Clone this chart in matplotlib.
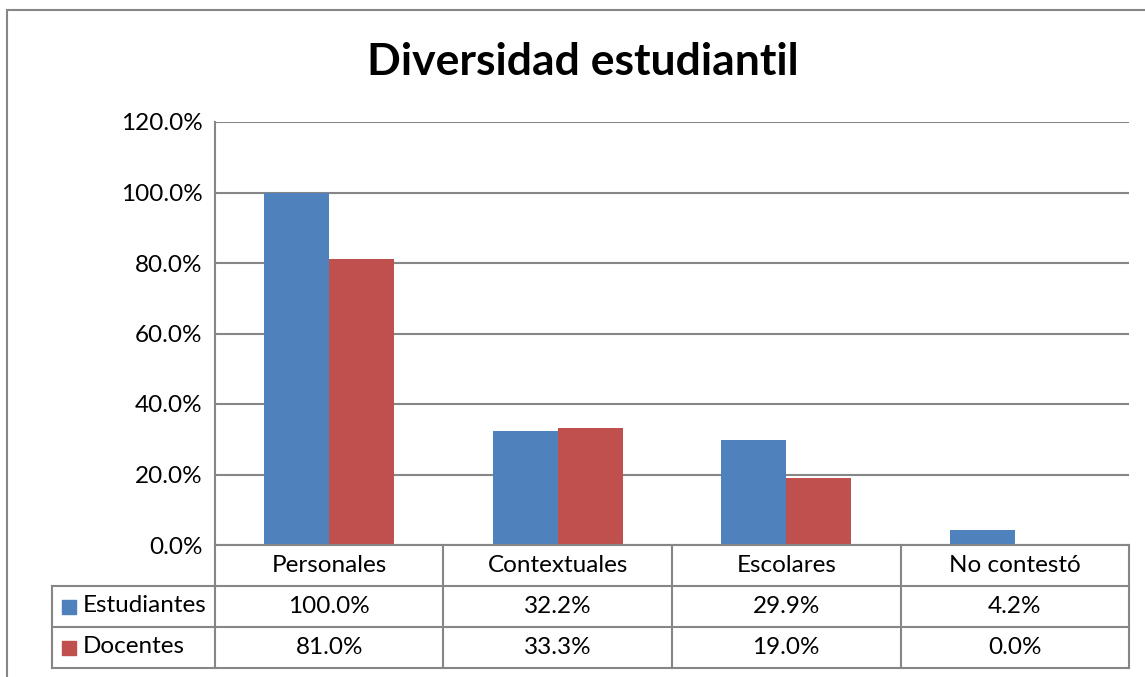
import matplotlib.pyplot as plt
import numpy as np
from matplotlib.patches import Rectangle

categories = ['Personales', 'Contextuales', 'Escolares', 'No contestó']
series_names = ['Estudiantes', 'Docentes']
estudiantes = [100.0, 32.2, 29.9, 4.2]
docentes = [81.0, 33.3, 19.0, 0.0]
yticks = [0, 20, 40, 60, 80, 100, 120]

blue = '#4F81BD'
red = '#C0504D'
grid_c = '#868686'
plt.rcParams['font.family'] = ['Lato', 'DejaVu Sans']
fs = 17.5

W, H = 1145, 677
fig = plt.figure(figsize=(W / 100, H / 100), dpi=100)

def fx(px):
    return px / W

def fy(py):
    return 1 - py / H

# outer chart border (right and bottom edges fall outside the image)
fig.patches.append(Rectangle((fx(7), fy(690)), fx(1160) - fx(7), fy(10) - fy(690),
                             transform=fig.transFigure, fill=False,
                             edgecolor=grid_c, lw=1.5))

left, right, top, bottom = 215, 1129, 122, 545
ax = fig.add_axes([fx(left), fy(bottom), fx(right) - fx(left), fy(top) - fy(bottom)])

x = np.arange(len(categories))
w = 0.284
ax.bar(x - w / 2, estudiantes, w, color=blue)
ax.bar(x + w / 2, docentes, w, color=red)
ax.set_xlim(-0.5, len(categories) - 0.5)
ax.set_ylim(0, 120)
ax.set_yticks(yticks)
ax.set_yticklabels([f'{v:.1f}%' for v in yticks], fontsize=fs)
ax.tick_params(axis='y', length=0, pad=9)
ax.tick_params(axis='x', length=0, labelbottom=False)
ax.yaxis.grid(True, color=grid_c, lw=1.5)
ax.set_axisbelow(True)
for s in ['top', 'right', 'bottom']:
    ax.spines[s].set_visible(False)
ax.spines['left'].set_color(grid_c)
ax.spines['left'].set_linewidth(1.5)

fig.text(fx(583), fy(62), 'Diversidad estudiantil', ha='center', va='center',
         fontsize=32, fontweight='bold')

# data table below the plot
tleft, tbottom = 52, 668
lab_w = (left - tleft) / ((right - left) / len(categories))
tax = fig.add_axes([fx(tleft), fy(tbottom), fx(right) - fx(tleft), fy(bottom) - fy(tbottom)])
tax.set_xlim(-0.5 - lab_w, len(categories) - 0.5)
tax.set_ylim(0, 3)
tax.axis('off')
lk = dict(color=grid_c, lw=1.5, clip_on=False)
x0 = -0.5 - lab_w
xe = len(categories) - 0.5
tax.plot([-0.5, xe], [3, 3], **lk)
tax.plot([x0, xe], [2, 2], **lk)
tax.plot([x0, xe], [1, 1], **lk)
tax.plot([x0, xe], [0, 0], **lk)
tax.plot([x0, x0], [0, 2], **lk)
for i in range(len(categories) + 1):
    tax.plot([i - 0.5, i - 0.5], [0, 3], **lk)

for i, c in enumerate(categories):
    tax.text(i, 2.5, c, ha='center', va='center', fontsize=fs)
rows = [estudiantes, docentes]
colors = [blue, red]
for r, (name, vals, col) in enumerate(zip(series_names, rows, colors)):
    yc = 1.5 - r
    for i, v in enumerate(vals):
        tax.text(i, yc, f'{v:.1f}%', ha='center', va='center', fontsize=fs)
    fig.patches.append(Rectangle((fx(62), fy(tbottom - 41 * (1.5 - r) + 7)),
                                 fx(14), 14 / H, transform=fig.transFigure,
                                 color=col))
    fig.text(fx(83), fy(tbottom - 41 * (1.5 - r)) + 0.001, name, ha='left',
             va='center', fontsize=fs)

fig.savefig('out.png', dpi=100)
